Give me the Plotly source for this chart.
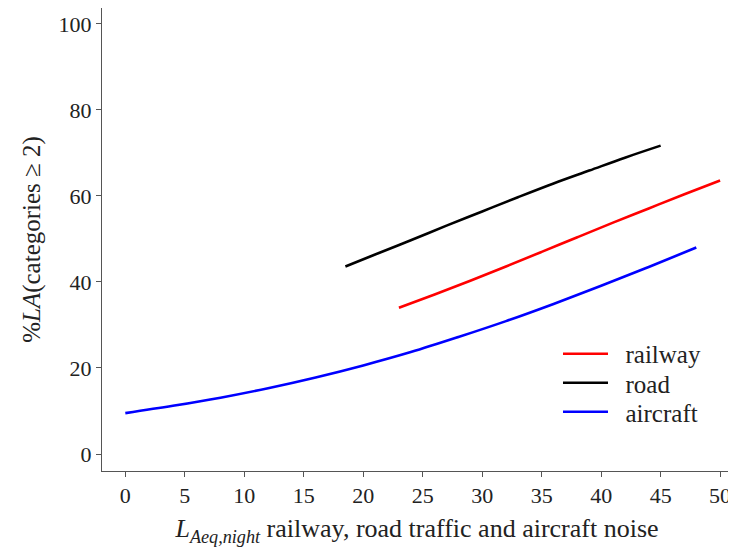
import plotly.graph_objects as go

# Values
rail_x = [23, 26, 29, 32, 35, 38, 41, 44, 47, 50]
rail_y = [34.0, 37.1, 40.3, 43.6, 47.0, 50.4, 53.8, 57.1, 60.4, 63.6]

road_x = [18.5, 21, 24, 27, 30, 33, 36, 39, 42, 45]
road_y = [43.6, 46.4, 49.7, 53.1, 56.4, 59.7, 62.9, 65.9, 68.9, 71.7]

air_x = [0, 4, 8, 12, 16, 20, 24, 28, 32, 36, 40, 44, 48]
air_y = [9.5, 11.2, 13.1, 15.3, 17.8, 20.6, 23.7, 27.2, 30.9, 34.9, 39.1, 43.5, 48.0]

series_names = ["railway", "road", "aircraft"]
x_ticks = [0, 5, 10, 15, 20, 25, 30, 35, 40, 45, 50]
y_ticks = [0, 20, 40, 60, 80, 100]

FONT = "Liberation Serif"
TXT = "#222222"
PAD = "\u00a0\u00a0"

fig = go.Figure()
fig.add_trace(go.Scatter(x=rail_x, y=rail_y, mode="lines", name=PAD + series_names[0],
                         legend="legend",
                         line=dict(color="#ff0000", width=2.6, shape="spline")))
fig.add_trace(go.Scatter(x=road_x, y=road_y, mode="lines", name=PAD + series_names[1],
                         legend="legend2",
                         line=dict(color="#000000", width=2.6, shape="spline")))
fig.add_trace(go.Scatter(x=air_x, y=air_y, mode="lines", name=PAD + series_names[2],
                         legend="legend3",
                         line=dict(color="#0000ff", width=2.6, shape="spline")))

axis_common = dict(
    showgrid=False, zeroline=False, showline=True, mirror=True,
    linecolor="#555555", linewidth=1, ticks="outside", ticklen=5,
    tickcolor="#555555", tickwidth=1,
    tickfont=dict(family=FONT, size=22, color=TXT),
)

def legend_box(yc):
    return dict(x=0.7238, y=yc, xanchor="left", yanchor="middle",
                bgcolor="rgba(0,0,0,0)", borderwidth=0,
                font=dict(family=FONT, size=25, color=TXT),
                itemwidth=45)

# The page body has an 8px margin, so the figure is sized to fit the window.
fig.update_layout(
    width=728, height=540,
    margin=dict(l=94, r=4, t=0, b=77),
    paper_bgcolor="white", plot_bgcolor="white",
    font=dict(family=FONT, size=22, color=TXT),
    showlegend=True,
    legend=legend_box(0.2527),
    legend2=legend_box(0.190),
    legend3=legend_box(0.1274),
    xaxis=dict(range=[-1.96, 51.0], tickvals=x_ticks,
               title=dict(text="<i>L</i><sub><i>Aeq,night</i></sub> railway, road traffic and aircraft noise",
                          font=dict(family=FONT, size=26, color=TXT), standoff=11),
               **axis_common),
    yaxis=dict(range=[-3.95, 103.7], tickvals=y_ticks,
               title=dict(text="%<i>LA</i>(categories ≥ 2)",
                          font=dict(family=FONT, size=25, color=TXT), standoff=10),
               **axis_common),
)

fig.write_html("out.html")
